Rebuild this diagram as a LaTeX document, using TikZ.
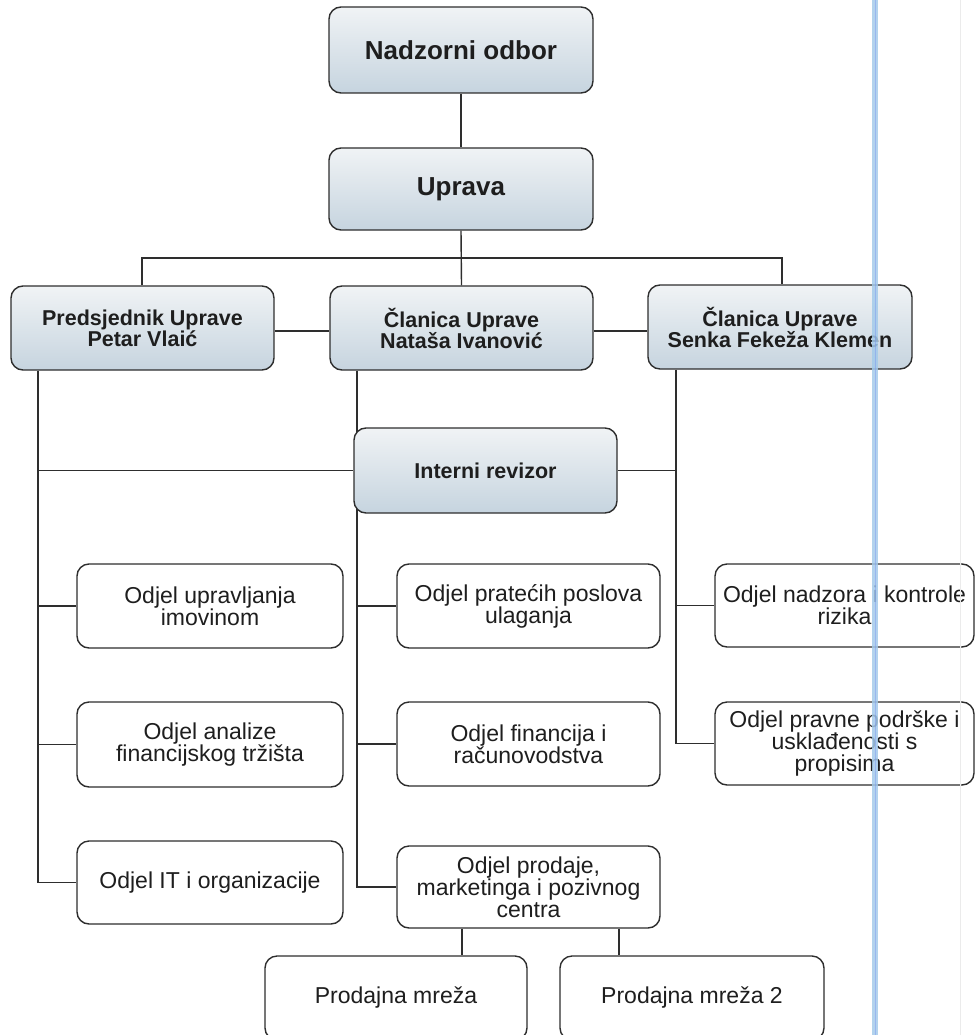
\documentclass[tikz,border=0pt]{standalone}
\usepackage{fontspec}
\setmainfont{Liberation Sans}
\usetikzlibrary{backgrounds,calc}
\definecolor{lineC}{HTML}{2E2E2E}
\definecolor{txtC}{HTML}{1E1E1E}
\definecolor{topC}{HTML}{F0F3F5}
\definecolor{botC}{HTML}{C6D4DF}
\definecolor{barC}{HTML}{A4CAEA}
\tikzset{
  box/.style={draw=lineC, line width=1.4pt, rounded corners=12pt, align=center,
    text=txtC, inner sep=2pt},
  headbox/.style={box, top color=topC, bottom color=botC,
    font=\fontsize{21.5}{21}\selectfont\bfseries},
  bigbox/.style={headbox, font=\fontsize{26}{24}\selectfont\bfseries},
  deptbox/.style={box, fill=white, font=\fontsize{23}{22}\selectfont},
  link/.style={draw=lineC, line width=1.4pt},
}
\begin{document}
\begin{tikzpicture}[x=1pt, y=-1pt]
\useasboundingbox (0,0) rectangle (976,1035);
% top
\node[bigbox, minimum width=264pt, minimum height=86pt] (nad) at (461,50) {Nadzorni odbor};
\node[bigbox, minimum width=264pt, minimum height=82pt] (upr) at (461,189) {Uprava};
% board
\node[headbox, minimum width=263pt, minimum height=84pt] (pred) at (142.5,328) {Predsjednik Uprave\\Petar Vlaić};
\node[headbox, minimum width=263pt, minimum height=84pt] (nat) at (461.5,328) {Članica Uprave\\Nataša Ivanović};
\node[headbox, minimum width=264pt, minimum height=84pt] (sen) at (780,327) {Članica Uprave\\Senka Fekeža Klemen};
% internal auditor
\node[headbox, minimum width=263pt, minimum height=85pt] (int) at (485.5,470.5) {Interni revizor};
% departments
\node[deptbox, minimum width=266pt, minimum height=84pt] (ou) at (210,606) {Odjel upravljanja\\imovinom};
\node[deptbox, minimum width=263pt, minimum height=84pt] (op) at (528.5,606) {Odjel pratećih poslova\\ulaganja};
\node[deptbox, minimum width=259pt, minimum height=83pt] (onk) at (844.5,605.5) {Odjel nadzora i kontrole\\rizika};
\node[deptbox, minimum width=266pt, minimum height=85pt] (oa) at (210,744.5) {Odjel analize\\financijskog tržišta};
\node[deptbox, minimum width=263pt, minimum height=84pt] (of) at (528.5,744) {Odjel financija i\\računovodstva};
\node[deptbox, minimum width=259pt, minimum height=83pt] (opp) at (844.5,743.5) {Odjel pravne podrške i\\usklađenosti s\\propisima};
\node[deptbox, minimum width=266pt, minimum height=83pt] (oit) at (210,882.5) {Odjel IT i organizacije};
\node[deptbox, minimum width=263pt, minimum height=82pt] (oprod) at (528.5,887) {Odjel prodaje,\\marketinga i pozivnog\\centra};
\node[deptbox, minimum width=262pt, minimum height=84pt] (pm1) at (396,998) {Prodajna mreža};
\node[deptbox, minimum width=264pt, minimum height=84pt] (pm2) at (692,998) {Prodajna mreža 2};
% bus coordinates
\coordinate (busY) at (0,258);
\coordinate (lnkY) at (0,331);
\coordinate (pX) at (38,0);
\coordinate (nX) at (357,0);
\coordinate (sX) at (676,0);
\coordinate (b1X) at (142,0);
\coordinate (b3X) at (782,0);
\coordinate (m1X) at (462,0);
\coordinate (m2X) at (619,0);
\begin{scope}[on background layer]
  \draw[link] (nad.south) -- (upr.north);
  \draw[link] (upr.south) -- (nat.north);
  \draw[link] (pred.north -| b1X) -- (b1X |- busY) -- (b3X |- busY) -- (sen.north -| b3X);
  \draw[link] (pred.east |- lnkY) -- (nat.west |- lnkY);
  \draw[link] (nat.east |- lnkY) -- (sen.west |- lnkY);
  % Predsjednik branch
  \draw[link] (pred.south -| pX) -- (oit.west -| pX) -- (oit.west);
  \draw[link] (int.west -| pX) -- (int.west);
  \draw[link] (ou.west -| pX) -- (ou.west);
  \draw[link] (oa.west -| pX) -- (oa.west);
  % Natasa branch
  \draw[link] (nat.south -| nX) -- (oprod.west -| nX) -- (oprod.west);
  \draw[link] (op.west -| nX) -- (op.west);
  \draw[link] (of.west -| nX) -- (of.west);
  % Senka branch
  \draw[link] (sen.south -| sX) -- (opp.west -| sX) -- (opp.west);
  \draw[link] (int.east) -- (int.east -| sX);
  \draw[link] (onk.west -| sX) -- (onk.west);
  % sales
  \draw[link] (oprod.south -| m1X) -- (pm1.north -| m1X);
  \draw[link] (oprod.south -| m2X) -- (pm2.north -| m2X);
\end{scope}
% scan artefacts
\draw[barC, line width=6pt, opacity=0.85] (875,0) -- (875,1035);
\draw[barC!70!blue, line width=0.8pt, opacity=0.4] (875,0) -- (875,1035);
\draw[black!8, line width=1pt] (960,0) -- (960,1035);
\end{tikzpicture}
\end{document}
